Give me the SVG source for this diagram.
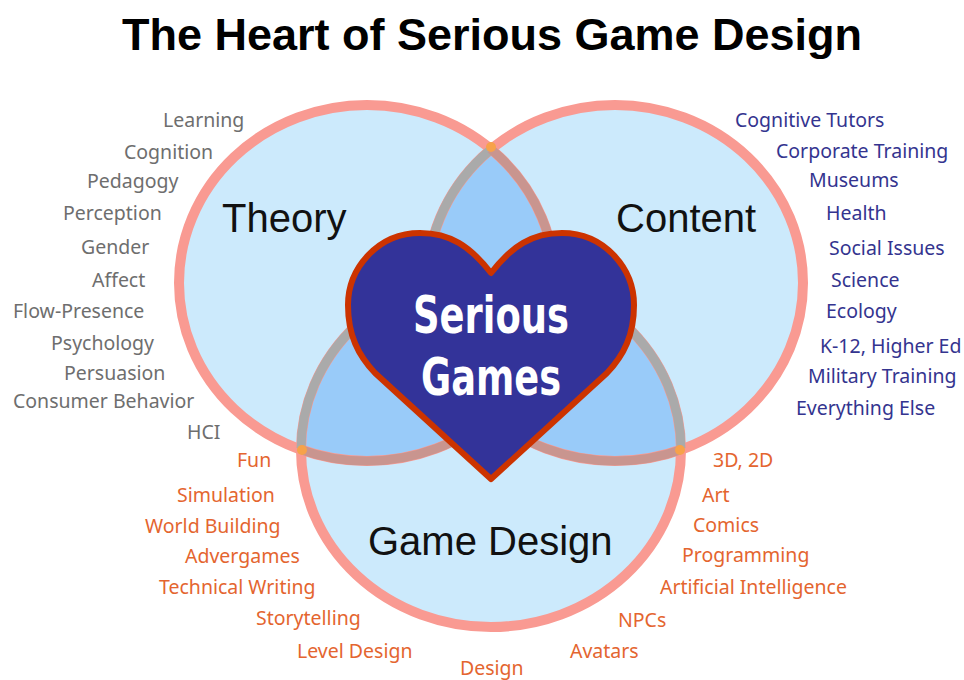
<svg xmlns="http://www.w3.org/2000/svg" width="964" height="680" viewBox="0 0 964 680">
  <defs>
    <style>
      .fill { fill: #cceafc; }
      .dark { fill: #99cbf9; }
      .ring { fill: none; stroke: #f99a92; stroke-width: 10; }
      .brown { fill: none; stroke: #c9958f; stroke-width: 9; }
      .grey { fill: none; stroke: #aaaaaa; stroke-width: 9; }
      .blob { fill: #f7a24a; }
      .title { font-family: "Liberation Sans", Arial, sans-serif; font-weight: bold; font-size: 45px; fill: #000; }
      .big { font-family: "Liberation Sans", Arial, sans-serif; font-size: 40px; fill: #111; }
      .sg { font-family: "Liberation Sans Narrow", "DejaVu Sans Condensed", "Liberation Sans", sans-serif; font-weight: bold; font-size: 52px; fill: #fff; text-anchor: middle; }
      .t { font-family: "Noto Sans", "Open Sans", sans-serif; font-size: 19.5px; }
      .gy { fill: #6e6e6e; }
      .nv { fill: #34348f; }
      .or { fill: #e4652f; }
    </style>
    <clipPath id="inT"><ellipse cx="367" cy="283" rx="188" ry="178"/></clipPath>
    <clipPath id="inC"><ellipse cx="615" cy="283" rx="188" ry="178"/></clipPath>
    <clipPath id="inG"><ellipse cx="491" cy="450" rx="190" ry="177"/></clipPath>
  </defs>

  <rect width="964" height="680" fill="#ffffff"/>

  <text class="title" x="492" y="50" text-anchor="middle" textLength="740" lengthAdjust="spacingAndGlyphs">The Heart of Serious Game Design</text>

  <g id="fills">
    <ellipse class="fill" cx="367" cy="283" rx="188" ry="178"/>
    <ellipse class="fill" cx="615" cy="283" rx="188" ry="178"/>
    <ellipse class="fill" cx="491" cy="450" rx="190" ry="177"/>
    <ellipse class="dark" cx="615" cy="283" rx="188" ry="178" clip-path="url(#inT)"/>
    <ellipse class="dark" cx="491" cy="450" rx="190" ry="177" clip-path="url(#inT)"/>
    <ellipse class="dark" cx="491" cy="450" rx="190" ry="177" clip-path="url(#inC)"/>
  </g>

  <g id="theory">
    <ellipse class="ring" cx="367" cy="283" rx="188" ry="178"/>
    <text class="big" x="222" y="232">Theory</text>
  </g>
  <g id="content">
    <ellipse class="ring" cx="615" cy="283" rx="188" ry="178"/>
    <text class="big" x="616" y="232">Content</text>
  </g>
  <g id="game-design">
    <ellipse class="ring" cx="491" cy="450" rx="190" ry="177"/>
    <text class="big" x="368" y="555">Game Design</text>
  </g>

  <g id="inner-arcs">
    <ellipse class="grey" cx="615" cy="283" rx="188" ry="178" clip-path="url(#inT)"/>
    <ellipse class="brown" cx="367" cy="283" rx="188" ry="178" clip-path="url(#inC)"/>
    <ellipse class="grey" cx="491" cy="450" rx="190" ry="177" clip-path="url(#inT)"/>
    <ellipse class="grey" cx="491" cy="450" rx="190" ry="177" clip-path="url(#inC)"/>
    <ellipse class="brown" cx="367" cy="283" rx="188" ry="178" clip-path="url(#inG)"/>
    <ellipse class="brown" cx="615" cy="283" rx="188" ry="178" clip-path="url(#inG)"/>
    <circle class="blob" cx="491" cy="147" r="5"/>
    <circle class="blob" cx="302" cy="450" r="5"/>
    <circle class="blob" cx="680" cy="450" r="5"/>
  </g>

  <g id="heart">
    <path d="M 491 273 C 470 246 450 233 420 233 C 378 233 348 268 348 305 C 348 335 358 355 375 373 L 491 479 L 607 373 C 624 355 634 335 634 305 C 634 268 604 233 562 233 C 532 233 512 246 491 273 Z" fill="#333399" stroke="#cc3300" stroke-width="6" stroke-linejoin="round"/>
    <text class="sg" x="491" y="333" textLength="156" lengthAdjust="spacingAndGlyphs">Serious</text>
    <text class="sg" x="491" y="395" textLength="140" lengthAdjust="spacingAndGlyphs">Games</text>
  </g>

  <g id="theory-topics" class="t gy">
    <text x="163" y="127">Learning</text>
    <text x="124" y="159">Cognition</text>
    <text x="87" y="188">Pedagogy</text>
    <text x="63" y="220">Perception</text>
    <text x="81" y="254">Gender</text>
    <text x="92" y="287">Affect</text>
    <text x="13" y="318">Flow-Presence</text>
    <text x="51" y="350">Psychology</text>
    <text x="64" y="380">Persuasion</text>
    <text x="13" y="408">Consumer Behavior</text>
    <text x="187" y="439">HCI</text>
  </g>

  <g id="content-topics" class="t nv">
    <text x="735" y="127">Cognitive Tutors</text>
    <text x="776" y="158">Corporate Training</text>
    <text x="809" y="187">Museums</text>
    <text x="826" y="220">Health</text>
    <text x="829" y="255">Social Issues</text>
    <text x="831" y="287">Science</text>
    <text x="826" y="318">Ecology</text>
    <text x="820" y="353">K-12, Higher Ed</text>
    <text x="808" y="383">Military Training</text>
    <text x="796" y="415">Everything Else</text>
  </g>

  <g id="design-topics" class="t or">
    <text x="237" y="467">Fun</text>
    <text x="177" y="502">Simulation</text>
    <text x="145" y="533">World Building</text>
    <text x="185" y="563">Advergames</text>
    <text x="159" y="594">Technical Writing</text>
    <text x="256" y="625">Storytelling</text>
    <text x="297" y="658">Level Design</text>
    <text x="460" y="675">Design</text>
    <text x="713" y="467">3D, 2D</text>
    <text x="702" y="502">Art</text>
    <text x="693" y="532">Comics</text>
    <text x="682" y="562">Programming</text>
    <text x="660" y="594">Artificial Intelligence</text>
    <text x="618" y="627">NPCs</text>
    <text x="570" y="658">Avatars</text>
  </g>
</svg>
